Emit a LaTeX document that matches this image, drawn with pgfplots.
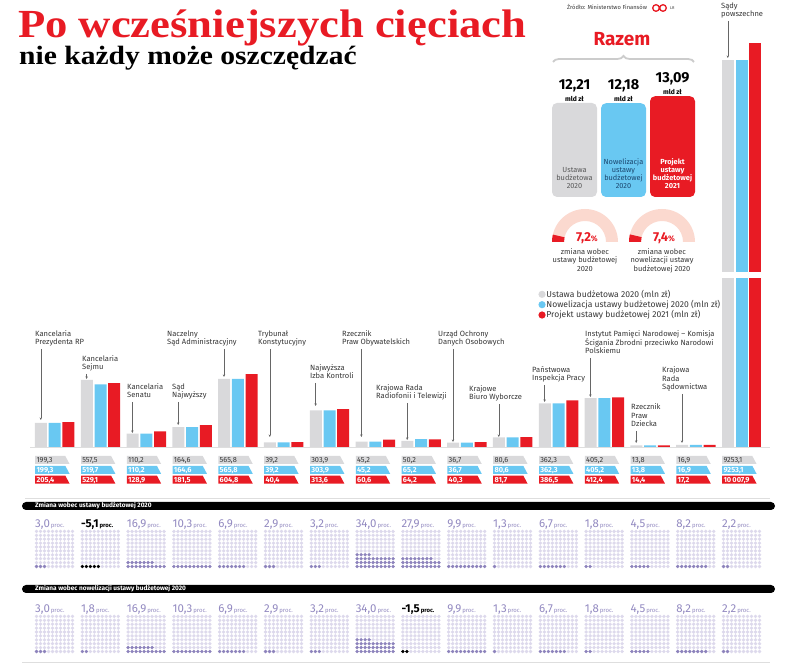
\documentclass[border=0pt]{standalone}
\usepackage{pgfplots}
\pgfplotsset{compat=1.18}
\usepackage{pgfplotstable}
\usepackage{fontspec}
\setmainfont{Fira Sans}
\newfontfamily\serifhead[FakeStretch=1.12]{Liberation Serif}
\usetikzlibrary{shapes.geometric,arrows.meta,decorations.pathreplacing}

\definecolor{cgray}{RGB}{217,217,219}
\definecolor{cblue}{RGB}{105,200,242}
\definecolor{cred}{RGB}{232,27,36}
\definecolor{ctxt}{RGB}{55,55,55}
\definecolor{cline}{RGB}{222,222,222}
\definecolor{wlight}{RGB}{221,217,236}
\definecolor{wdark}{RGB}{141,131,188}
\definecolor{wlab}{RGB}{146,137,192}
\definecolor{cpink}{RGB}{251,217,207}
\definecolor{cnavy}{RGB}{28,72,112}

% mln zl; d1, d2 = zmiana w proc. (tak jak na rysunku)
\pgfplotstableread{
idx z u2020 n2020 p2021 d1 d2
0 0 199.3 199.3 205.4 3.0 3.0
1 0 557.5 519.7 529.1 -5.1 1.8
2 0 110.2 110.2 128.9 16.9 16.9
3 0 164.6 164.6 181.5 10.3 10.3
4 0 565.8 565.8 604.8 6.9 6.9
5 0 39.2 39.2 40.4 2.9 2.9
6 0 303.9 303.9 313.6 3.2 3.2
7 0 45.2 45.2 60.6 34.0 34.0
8 0 50.2 65.2 64.2 27.9 -1.5
9 0 36.7 36.7 40.3 9.9 9.9
10 0 80.6 80.6 81.7 1.3 1.3
11 0 362.3 362.3 386.5 6.7 6.7
12 0 405.2 405.2 412.4 1.8 1.8
13 0 13.8 13.8 14.4 4.5 4.5
14 0 16.9 16.9 17.2 8.2 8.2
15 0 9253.1 9253.1 10007.9 2.2 2.2
}\budzet

% mld zl
\pgfplotstableread{
idx total
0 12.21
1 12.18
2 13.09
}\razem

\pgfplotsset{
  mybar/.style={ybar, bar width=0.262, draw=none,
    legend image code/.code={\fill[##1] (0bp,0bp) circle (3.6bp);}},
  tagplot/.style={draw=none, mark=none, forget plot, point meta=explicit,
    nodes near coords={\pgfmathprintnumber[fixed,fixed zerofill,precision=1,use comma,1000 sep={\,},min exponent for 1000 sep=4,assume math mode=true]{\pgfplotspointmeta}},
    every node near coord/.append style={tag,#1}},
  hidden/.style={scale only axis, hide axis, xmin=-1, xmax=16, width=778.6bp},
}
\tikzset{
  tag/.style={shape=trapezium, trapezium left angle=90, trapezium right angle=62,
    anchor=west, xshift=-19.7bp, inner xsep=1.3bp, inner ysep=1bp,
    text width=27.5bp, align=left, text height=5.6bp, text depth=0.4bp,
    font=\fontsize{7.4}{7.5}\selectfont},
  lab/.style={anchor=base west, inner sep=0pt, align=left, text=ctxt,
    font=\fontsize{7.6}{9}\selectfont},
  arr/.style={-{Stealth[length=2.6bp,width=2.4bp]}, line width=0.45bp, black!60},
}

% waffle: #1 kategoria, #2 wartosc proc., #3 srodek dolnego rzedu (px od gory)
\newcommand\waffle[3]{%
  \pgfmathtruncatemacro\wN{round(abs(#2))}%
  \pgfmathtruncatemacro\wneg{#2<0}%
  \gdef\wL{}\gdef\wD{}%
  \foreach \k in {0,...,99}{%
    \pgfmathtruncatemacro\wc{mod(\k,10)}%
    \pgfmathtruncatemacro\wr{div(\k,10)}%
    \pgfmathsetmacro\wx{36.5+45.8*#1+4*\wc}%
    \pgfmathsetmacro\wy{671-#3+3.9*\wr}%
    \ifnum\k<\wN\relax\xdef\wD{\wD(\wx,\wy)}\else\xdef\wL{\wL(\wx,\wy)}\fi
  }%
  \ifnum\wneg=1 \def\wcol{black}\def\wtc{black}\def\wbf{\noexpand\bfseries}%
  \else\def\wcol{wdark}\def\wtc{wlab}\def\wbf{}\fi
  \pgfmathsetmacro\wlx{35+45.8*#1}%
  \pgfmathsetmacro\wly{671-#3+38.5}%
  \edef\wcmd{%
    \noexpand\addplot[only marks, mark=*, mark size=1.5bp, wlight] coordinates {\wL};
    \noexpand\addplot[only marks, mark=*, mark size=1.5bp, \wcol] coordinates {\wD};
    \noexpand\node[anchor=base west, inner sep=0pt, text=\wtc,
      font=\noexpand\fontsize{11.5}{12}\noexpand\selectfont\wbf]
      at (axis cs:\wlx,\wly) {\noexpand\pgfmathprintnumber[fixed,fixed zerofill,precision=1,use comma,assume math mode=true]{#2}\noexpand\fontsize{6}{7}\noexpand\selectfont\noexpand\,proc.};
  }\wcmd
}

\begin{document}
\begin{tikzpicture}[x=1bp,y=1bp]
\path[use as bounding box] (0,0) rectangle (788,671);
\coordinate (pmain) at (8.9,224);
\coordinate (psadyhi) at (8.9,399);
\coordinate (prazem) at (550,474);
\coordinate (pwaf) at (0,0);

% naglowek
\node[anchor=base west, inner sep=0pt, text=cred,
  font=\serifhead\bfseries\fontsize{40}{40}\selectfont] at (18,633) {Po wcześniejszych cięciach};
\node[anchor=base west, inner sep=0pt,
  font=\serifhead\bfseries\fontsize{26.5}{26.5}\selectfont] at (19,606) {nie każdy może oszczędzać};
\node[anchor=base west, inner sep=0pt, text=ctxt, font=\fontsize{5.8}{6}\selectfont] at (567,661) {Źródło: Ministerstwo Finansów};
\draw[cred, line width=1.3bp] (656,663) circle (3.3) (663,663) circle (3.3);
\node[anchor=base west, inner sep=0pt, text=ctxt, font=\fontsize{4}{4}\selectfont] at (670,661) {LR};

% linie
\draw[cline, line width=0.8bp] (30,224) -- (770,224);
\draw[cline, line width=0.8bp] (25,173) -- (770,173);
\draw[cline, line width=0.8bp] (22,9) -- (770,9);

% glowny wykres
\begin{axis}[hidden, at={(pmain)}, anchor=south west, height=100bp,
  ymin=0, ymax=829.9, clip=false,
  legend style={at={(0.676,1.60)}, anchor=north west, draw=none, fill=none,
    font=\fontsize{8.6}{9}\selectfont, text=ctxt, row sep=0pt,
    nodes={inner sep=0.8bp}, cells={anchor=west}},
]
\addplot[mybar, fill=cgray, bar shift=-0.3, restrict x to domain=-0.5:14.5] table[x=idx,y=u2020]{\budzet};
\addlegendentry{Ustawa budżetowa 2020 (mln zł)}
\addplot[mybar, fill=cblue, bar shift=0, restrict x to domain=-0.5:14.5] table[x=idx,y=n2020]{\budzet};
\addlegendentry{Nowelizacja ustawy budżetowej 2020 (mln zł)}
\addplot[mybar, fill=cred, bar shift=0.3, restrict x to domain=-0.5:14.5] table[x=idx,y=p2021]{\budzet};
\addlegendentry{Projekt ustawy budżetowej 2021 (mln zł)}
\addplot[tagplot={fill=cgray,text=ctxt,yshift=-13bp}] table[x=idx,y=z,meta=u2020]{\budzet};
\addplot[tagplot={fill=cblue,text=white,yshift=-22.8bp,font=\fontsize{7.4}{7.5}\selectfont\bfseries}] table[x=idx,y=z,meta=n2020]{\budzet};
\addplot[tagplot={fill=cred,text=white,yshift=-32.6bp,font=\fontsize{7.4}{7.5}\selectfont\bfseries}] table[x=idx,y=z,meta=p2021]{\budzet};
\end{axis}

% Sady powszechne - dolna czesc (przerwana os)
\begin{axis}[hidden, at={(pmain)}, anchor=south west, height=168bp, ymin=0, ymax=1394]
\addplot[mybar, fill=cgray, bar shift=-0.3, restrict x to domain=14.5:15.5] table[x=idx,y=u2020]{\budzet};
\addplot[mybar, fill=cblue, bar shift=0, restrict x to domain=14.5:15.5] table[x=idx,y=n2020]{\budzet};
\addplot[mybar, fill=cred, bar shift=0.3, restrict x to domain=14.5:15.5] table[x=idx,y=p2021]{\budzet};
\end{axis}
% Sady powszechne - gorna czesc
\begin{axis}[hidden, at={(psadyhi)}, anchor=south west, height=242bp, ymin=0, ymax=10563]
\addplot[mybar, fill=cgray, bar shift=-0.3, restrict x to domain=14.5:15.5] table[x=idx,y=u2020]{\budzet};
\addplot[mybar, fill=cblue, bar shift=0, restrict x to domain=14.5:15.5] table[x=idx,y=n2020]{\budzet};
\addplot[mybar, fill=cred, bar shift=0.3, restrict x to domain=14.5:15.5] table[x=idx,y=p2021]{\budzet};
\end{axis}

% Razem
\begin{axis}[scale only axis, hide axis, at={(prazem)}, anchor=south west,
  width=147bp, height=107.8bp, xmin=-0.5, xmax=2.5, ymin=0, ymax=14, clip=false,
  nodes near coords={\fontsize{14.5}{15}\selectfont\bfseries\pgfmathprintnumber[fixed,fixed zerofill,precision=2,use comma,assume math mode=true]{\pgfplotspointmeta}\\[-0.5bp]\fontsize{6.8}{7}\selectfont\bfseries mld zł},
  every node near coord/.append style={align=center, inner sep=1.5bp, text=black},
]
\addplot[ybar, bar width=0.918, bar shift=0, draw=none, fill=cgray, rounded corners=5bp, restrict x to domain=-0.5:0.5] table[x=idx,y=total]{\razem};
\addplot[ybar, bar width=0.918, bar shift=0, draw=none, fill=cblue, rounded corners=5bp, restrict x to domain=0.5:1.5] table[x=idx,y=total]{\razem};
\addplot[ybar, bar width=0.918, bar shift=0, draw=none, fill=cred, rounded corners=5bp, restrict x to domain=1.5:2.5] table[x=idx,y=total]{\razem};
\node[anchor=south, align=center, yshift=5bp, text=black!65, font=\fontsize{7.4}{8}\selectfont] at (axis cs:0,0) {Ustawa\\budżetowa\\2020};
\node[anchor=south, align=center, yshift=5bp, text=cnavy, font=\fontsize{7.4}{8}\selectfont] at (axis cs:1,0) {Nowelizacja\\ustawy\\budżetowej\\2020};
\node[anchor=south, align=center, yshift=5bp, text=white, font=\fontsize{7.4}{8}\selectfont\bfseries] at (axis cs:2,0) {Projekt\\ustawy\\budżetowej\\2021};
\end{axis}
\node[anchor=base, text=cred, font=\fontsize{19}{19}\selectfont\bfseries] at (622,625) {Razem};
\draw[decorate, decoration={brace, amplitude=6bp}, line width=1.8bp, black!20] (553,609) -- (694,609);

% polkola
\foreach \cx/\pc/\txt in {585/7.2/{zmiana wobec\\ustawy budżetowej\\2020}, 662/7.4/{zmiana wobec\\nowelizacji ustawy\\budżetowej 2020}}{
  \fill[cpink] (\cx+33,429) arc[start angle=0,end angle=180,radius=33] -- (\cx-21,429) arc[start angle=180,end angle=0,radius=21] -- cycle;
  \fill[cred] (\cx-33,429) arc[start angle=180,end angle={180-1.8*\pc},radius=33]
    -- ({\cx+21*cos(180-1.8*\pc)},{429+21*sin(180-1.8*\pc)}) arc[start angle={180-1.8*\pc},end angle=180,radius=21] -- cycle;
  \node[anchor=base, inner sep=0pt, text=cred, font=\bfseries] at (\cx+2,429) {\fontsize{13}{13}\selectfont\pgfmathprintnumber[fixed,fixed zerofill,precision=1,use comma,assume math mode=true]{\pc}\fontsize{8}{8}\selectfont\%};
  \node[anchor=north, align=center, inner sep=0pt, text=ctxt, font=\fontsize{7.5}{9}\selectfont] at (\cx,423) {\txt};
}

% etykiety kategorii (anchor = linia bazowa ostatniego wiersza)
\node[lab] at (35,326) {Kancelaria\\Prezydenta RP};
\node[lab] at (82,301) {Kancelaria\\Sejmu};
\node[lab] at (127,273) {Kancelaria\\Senatu};
\node[lab] at (172,273) {Sąd\\Najwyższy};
\node[lab] at (167,326) {Naczelny\\Sąd Administracyjny};
\node[lab] at (258,326) {Trybunał\\Konstytucyjny};
\node[lab] at (310,292) {Najwyższa\\Izba Kontroli};
\node[lab] at (342,326) {Rzecznik\\Praw Obywatelskich};
\node[lab] at (376,272) {Krajowa Rada\\Radiofonii i Telewizji};
\node[lab] at (438,326) {Urząd Ochrony\\Danych Osobowych};
\node[lab] at (469,271) {Krajowe\\Biuro Wyborcze};
\node[lab] at (532,290) {Państwowa\\Inspekcja Pracy};
\node[lab] at (585,317) {Instytut Pamięci Narodowej – Komisja\\Ścigania Zbrodni przeciwko Narodowi\\Polskiemu};
\node[lab] at (631,244) {Rzecznik\\Praw\\Dziecka};
\node[lab] at (662,281) {Krajowa\\Rada\\Sądownictwa};
\node[lab] at (721,654) {Sądy\\powszechne};

\draw[arr] (40.8,322) -- (40.8,251);
\draw[arr] (86.6,297) -- (86.6,292);
\draw[arr] (132.4,269) -- (132.4,238);
\draw[arr] (178.2,269) -- (178.2,246);
\draw[arr] (224,322) -- (224,294);
\draw[arr] (269.8,322) -- (269.8,234);
\draw[arr] (315.6,288) -- (315.6,265);
\draw[arr] (361.4,322) -- (361.4,234);
\draw[arr] (407.2,268) -- (407.2,231);
\draw[arr] (453,322) -- (453,229);
\draw[arr] (498.8,267) -- (498.8,234);
\draw[arr] (544.6,286) -- (544.6,269);
\draw[arr] (590.4,313) -- (590.4,274);
\draw[arr] (636.2,240) -- (636.2,228);
\draw[arr] (682,277) -- (682,228);
\draw[arr] (727.8,650) -- (727.8,613);

% paski sekcji
\fill[black, rounded corners=4bp] (22,161) rectangle (775,169);
\node[anchor=west, inner sep=0pt, text=white, font=\fontsize{6.5}{7}\selectfont\bfseries] at (35,165) {Zmiana wobec ustawy budżetowej 2020};
\fill[black, rounded corners=4bp] (22,78) rectangle (775,86);
\node[anchor=west, inner sep=0pt, text=white, font=\fontsize{6.5}{7}\selectfont\bfseries] at (35,82) {Zmiana wobec nowelizacji ustawy budżetowej 2020};

% waffle
\begin{axis}[scale only axis, hide axis, at={(pwaf)}, anchor=south west,
  width=788bp, height=671bp, xmin=0, xmax=788, ymin=0, ymax=671, clip=false]
\pgfplotsforeachungrouped \i in {0,...,15}{%
  \pgfplotstablegetelem{\i}{d1}\of\budzet \let\wv\pgfplotsretval
  \waffle{\i}{\wv}{566.5}%
  \pgfplotstablegetelem{\i}{d2}\of\budzet \let\wv\pgfplotsretval
  \waffle{\i}{\wv}{651.5}%
}
\end{axis}
\end{tikzpicture}
\end{document}
